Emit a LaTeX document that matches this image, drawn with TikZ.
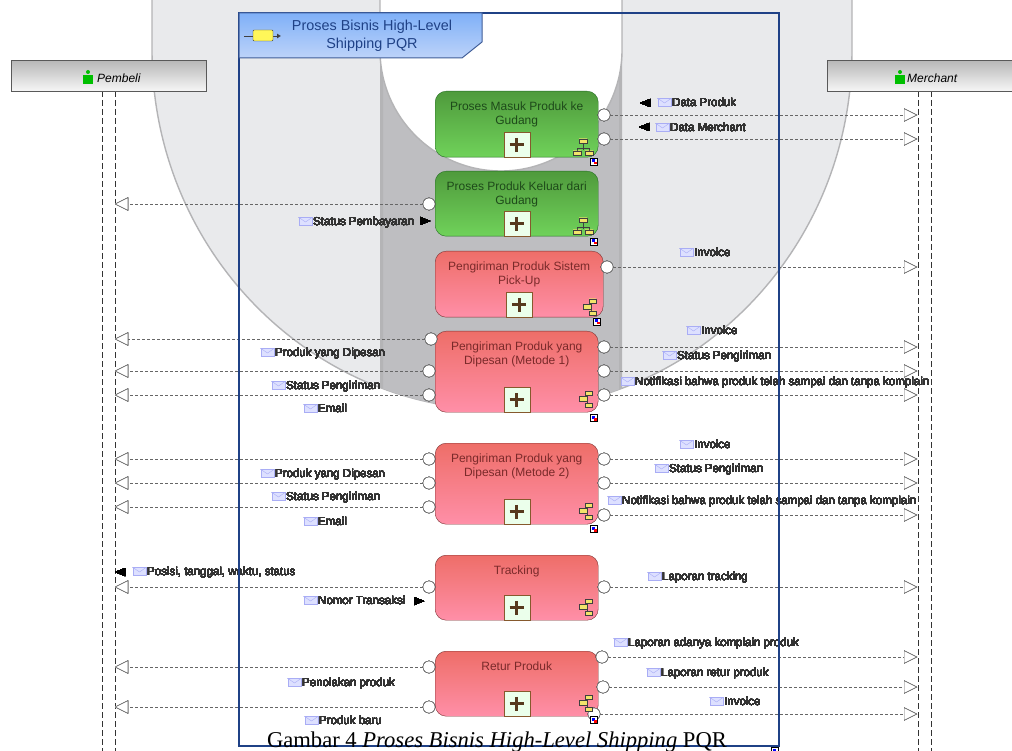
\documentclass[tikz,border=0pt]{standalone}
\usepackage{fontspec}
\usepackage{xcolor}
\usepackage{tikz}
\usetikzlibrary{arrows.meta, positioning, calc}
\setmainfont{Liberation Sans}
\newfontfamily\capfont{Liberation Serif}
\definecolor{ringlight}{HTML}{E9EAEC}
\definecolor{ringdark}{HTML}{BEBEC1}
\definecolor{ringedge}{HTML}{B4B4B6}
\definecolor{poolblue}{HTML}{1F4186}
\definecolor{poolA}{HTML}{7FB0F8}
\definecolor{poolB}{HTML}{BDD3F9}
\definecolor{envfill}{HTML}{DDE0FF}
\definecolor{envedge}{HTML}{A9ADF5}
\definecolor{iconyellow}{HTML}{F2E46A}
\definecolor{greenA}{HTML}{4F9A3C}
\definecolor{greenB}{HTML}{70D25A}
\definecolor{greenT}{HTML}{1E4A1A}
\definecolor{redA}{HTML}{EE6E68}
\definecolor{redB}{HTML}{FF8FA8}
\definecolor{redT}{HTML}{7A2A2A}
\tikzset{
  procbox/.style={rounded corners=11pt,inner sep=0pt,shading=axis,shading angle=-35},
  greenproc/.style={procbox,draw=black!60!green!70!gray,top color=greenA,bottom color=greenB},
  redproc/.style={procbox,draw=red!35!black!80!white,top color=redA,bottom color=redB},
  greentext/.style={font=\fontsize{12}{14}\selectfont,align=center,text=greenT},
  redtext/.style={font=\fontsize{12}{14}\selectfont,align=center,text=redT},
  port/.style={circle,draw=black!70,fill=white,inner sep=0pt,minimum size=12pt},
  msgline/.style={dash pattern=on 3pt off 2pt,black!60,-{Triangle[open,length=13pt,width=13pt,fill=white]}},
  lifeline/.style={dash pattern=on 6pt off 3pt,black!80,line width=0.9pt},
  msgtext/.style={font=\fontsize{11.5}{14}\selectfont,anchor=west,inner sep=0pt,text=black!80,text height=9.5pt,text depth=2pt},
  actor/.style={draw=black!65,line width=1pt,minimum height=31pt,inner sep=0pt,top color=black!28,bottom color=black!3},
}
% label with its envelope in front of the text
\newcommand{\msglabel}[4]{%
  \node[msgtext] (#1) at (#2,#3) {#4};
  \draw[envedge,fill=envfill] ($(#1.west)+(-14,-4.5)$) rectangle ++(13,8);
  \draw[envedge] ($(#1.west)+(-14,-4.5)$) -- ++(6.5,4.5) -- ++(6.5,-4.5);
}
\newcommand{\flagL}[2]{\fill (#1,#2) -- ++(10,-4) -- ++(0,8) -- cycle;}
\newcommand{\flagR}[2]{\fill (#1,#2) -- ++(-10,-4) -- ++(0,8) -- cycle;}
% plus box at the lower edge of a process
\newcommand{\plusbox}[1]{%
  \draw[draw=brown!70!black,fill=white!92!green] ($(#1.south)+(-13,-25)$) rectangle ($(#1.south)+(13,0)$);
  \draw[line width=3pt,brown!45!black] ($(#1.south)+(-7,-12.5)$) -- ++(14,0) ($(#1.south)+(0,-19.5)$) -- ++(0,14);
}
% small tree icons
\newcommand{\treeicon}[2]{%
  \draw[black!75] (#1,#2-5) -- (#1,#2+3) (#1-6,#2+6) -- (#1-6,#2+1) -- (#1+6,#2+1) -- (#1+6,#2+6);
  \draw[black!75,fill=iconyellow] (#1-4,#2-8) rectangle ++(8,4.5) (#1-10,#2+4) rectangle ++(8,4.5) (#1+2,#2+4) rectangle ++(8,4.5);
}
\newcommand{\sidetree}[2]{%
  \draw[black!75] (#1-5,#2) -- (#1+1,#2) (#1+5,#2-6) -- (#1+1,#2-6) -- (#1+1,#2+6) -- (#1+5,#2+6);
  \draw[black!75,fill=iconyellow] (#1-7,#2-2.5) rectangle ++(8,4.5) (#1-1,#2-8) rectangle ++(7,4.5) (#1-1,#2+4) rectangle ++(7,4.5);
}
\newcommand{\badge}[2]{%
  \draw[black,fill=white] (#1-3.5,#2-3.5) rectangle ++(7,7);
  \fill[blue] (#1-2.5,#2-2.5) rectangle ++(3,3);
  \fill[red] (#1,#2) rectangle ++(2.5,2.5);
}
\newcommand{\personicon}[2]{%
  \fill[green!75!black] (#1,#2-6) circle[radius=2];
  \fill[green!75!black] (#1-5,#2-3) rectangle ++(10,9);
}
\begin{document}
\begin{tikzpicture}[x=1pt,y=-1pt]
\clip (0,0) rectangle (1012,751);
% Gray ring behind everything
\begin{scope}
\fill[white] (0,0) rectangle (1012,751);
\draw[ringedge,line width=1.4pt,fill=ringlight] (152,0) -- (152,50) arc[start angle=180,end angle=0,x radius=350,y radius=360] -- (852,0);
\clip (152,0) -- (152,50) arc[start angle=180,end angle=0,x radius=350,y radius=360] -- (852,0) -- cycle;
\fill[ringdark] (380,0) rectangle (622,412);
\fill[ringedge] (380,0) rectangle (383,412) (619,0) rectangle (622,412);
\end{scope}
\draw[ringedge,line width=1.4pt,fill=white] (380,0) -- (380,50) arc[start angle=180,end angle=0,radius=121] -- (622,0);
% Lifelines
\draw[lifeline] (102,91) -- (102,751);
\draw[lifeline] (115,91) -- (115,751);
\draw[lifeline] (918,91) -- (918,751);
\draw[lifeline] (931,91) -- (931,751);
% Actors
\node[actor,anchor=north west,minimum width=195pt] (pembeli) at (11,60) {};
\node[actor,anchor=north west,minimum width=195pt] (merchant) at (827,60) {};
\personicon{88}{78}
\node[font=\fontsize{12}{14}\itshape,anchor=west,inner sep=0pt] (pembelitext) at (97,78) {Pembeli};
\personicon{900}{78}
\node[font=\fontsize{12}{14}\itshape,anchor=west,inner sep=0pt] (merchanttext) at (907,78) {Merchant};
% Processes
\node[greenproc,anchor=north west,minimum width=163pt,minimum height=66pt] (masuk) at (435,91) {};
\node[greentext,below=7pt of masuk.north] (masuktext) {Proses Masuk Produk ke\\Gudang};
\node[greenproc,anchor=north west,minimum width=163pt,minimum height=65pt] (keluar) at (435,171) {};
\node[greentext,below=7pt of keluar.north] (keluartext) {Proses Produk Keluar dari\\Gudang};
\node[redproc,anchor=north west,minimum width=168pt,minimum height=66pt] (pickup) at (435,251) {};
\node[redtext,below=7pt of pickup.north] (pickuptext) {Pengiriman Produk Sistem\\Pick-Up};
\node[redproc,anchor=north west,minimum width=163pt,minimum height=81pt] (metodeA) at (435,331) {};
\node[redtext,below=7pt of metodeA.north] (metodeAtext) {Pengiriman Produk yang\\Dipesan (Metode 1)};
\node[redproc,anchor=north west,minimum width=163pt,minimum height=81pt] (metodeB) at (435,443) {};
\node[redtext,below=7pt of metodeB.north] (metodeBtext) {Pengiriman Produk yang\\Dipesan (Metode 2)};
\node[redproc,anchor=north west,minimum width=163pt,minimum height=65pt] (tracking) at (435,555) {};
\node[redtext,below=7pt of tracking.north] (trackingtext) {Tracking};
\node[redproc,anchor=north west,minimum width=163pt,minimum height=65pt] (retur) at (435,651) {};
\node[redtext,below=7pt of retur.north] (returtext) {Retur Produk};
\foreach \proc in {masuk,keluar,pickup,metodeA,metodeB,tracking,retur}
  \plusbox{\proc}
% Messages to Pembeli
\foreach \pname/\px/\py in {keluarL/429/204,metodeAa/431/339,metodeAb/429/371,metodeAc/429/395,metodeBa/429/459,metodeBb/429/483,metodeBc/429/507,trackingL/429/587,returLa/429/667,returLb/429/707}{
  \coordinate (\pname end) at (115,\py);
  \node[port] (\pname) at (\px,\py) {};
  \draw[msgline] (\pname) -- (\pname end);
}
% Messages to Merchant
\foreach \pname/\px/\py in {masukRa/604/115,masukRb/604/139,pickupR/607/267,metodeAd/604/347,metodeAe/604/371,metodeAf/604/395,metodeBd/604/459,metodeBe/604/483,metodeBf/604/515,trackingR/604/587,returRa/602/657,returRb/603/687,returRc/594/714}{
  \coordinate (\pname end) at (917,\py);
  \node[port] (\pname) at (\px,\py) {};
  \draw[msgline] (\pname) -- (\pname end);
}
% Icons in the corners
\treeicon{583}{147}
\treeicon{583}{226}
\sidetree{590}{307}
\sidetree{586}{399}
\sidetree{586}{511}
\sidetree{586}{607}
\sidetree{586}{703}
\foreach \bx/\by in {594/162,594/242,597/322,594/418,594/529,594/720,775/751}
  \badge{\bx}{\by}
% Labels
\msglabel{dataproduk}{672}{103}{Data Produk}
\msglabel{datamerchant}{670}{128}{Data Merchant}
\msglabel{statusbayar}{313}{222}{Status Pembayaran}
\msglabel{invoiceA}{694}{253}{Invoice}
\msglabel{produkA}{275}{353}{Produk yang Dipesan}
\msglabel{statusA}{286}{386}{Status Pengiriman}
\msglabel{emailA}{318}{409}{Email}
\msglabel{invoiceB}{701}{331}{Invoice}
\msglabel{statusB}{677}{356}{Status Pengiriman}
\msglabel{notifA}{635}{382}{Notifikasi bahwa produk telah sampai dan tanpa komplain}
\msglabel{produkB}{275}{474}{Produk yang Dipesan}
\msglabel{statusC}{286}{497}{Status Pengiriman}
\msglabel{emailB}{318}{522}{Email}
\msglabel{invoiceC}{694}{445}{Invoice}
\msglabel{statusD}{669}{469}{Status Pengiriman}
\msglabel{notifB}{622}{501}{Notifikasi bahwa produk telah sampai dan tanpa komplain}
\msglabel{posisi}{147}{572}{Posisi, tanggal, waktu, status}
\msglabel{nomor}{318}{601}{Nomor Transaksi}
\msglabel{laporanT}{662}{577}{Laporan tracking}
\msglabel{tolak}{302}{683}{Penolakan produk}
\msglabel{baru}{319}{721}{Produk baru}
\msglabel{komplain}{628}{643}{Laporan adanya komplain produk}
\msglabel{laporanR}{661}{673}{Laporan retur produk}
\msglabel{invoiceD}{724}{702}{Invoice}
% Direction marks
\flagL{640}{103}
\flagL{639}{127}
\flagR{430}{221}
\flagL{115}{572}
\flagR{424}{601}
% Pool frame and its title
\draw[poolblue,line width=2.8pt] (239,13) rectangle (779,746);
\draw[top color=poolA,bottom color=poolB,draw=poolblue!85,line width=1pt]
  (239,13) -- (482,13) -- (482,42) -- (462,58) -- (239,58) -- cycle;
\node[font=\fontsize{14.4}{18}\selectfont,align=center,text=poolblue] (pooltitle) at (372,36) {Proses Bisnis High-Level\\Shipping PQR};
\draw[-{Latex[length=4pt,width=5pt]},black!75] (244,36) -- (281,36);
\draw[black!75,fill=yellow!65!white,rounded corners=1pt] (253,30) rectangle (273,41);
% Caption
\node[font=\fontsize{22.6}{26}\capfont,inner sep=0pt] (caption) at (497,742) {Gambar 4 \textit{Proses Bisnis High-Level Shipping} PQR};
\end{tikzpicture}
\end{document}
